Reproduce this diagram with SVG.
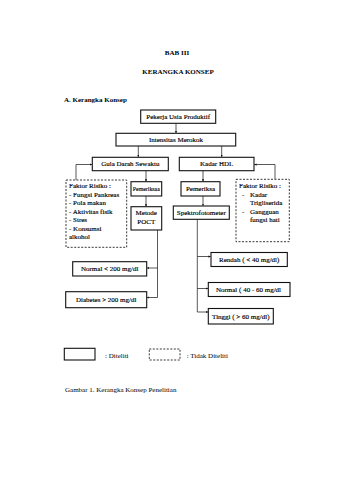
<svg xmlns="http://www.w3.org/2000/svg" width="339" height="480" viewBox="0 0 339 480">
<style>
text{font-family:"Liberation Serif","Times New Roman",serif;font-size:7px;fill:#000}
.t{stroke:#000;stroke-width:0.15}
.b{font-weight:bold}
.c{text-anchor:middle}
.box{fill:#fff;stroke:#111;stroke-width:1.1}
.dash{fill:#fff;stroke:#222;stroke-width:0.9;stroke-dasharray:2,1.5}
.ln{fill:none;stroke:#222;stroke-width:0.75}
</style>
<defs>
<marker id="ah" viewBox="0 0 6 6" refX="6" refY="3" markerWidth="3" markerHeight="3" orient="auto" markerUnits="strokeWidth">
<path d="M0,0L6,3L0,6z" fill="#111"/>
</marker>
</defs>
<rect width="339" height="480" fill="#fff"/>
<text class="b c" x="177" y="55">BAB III</text>
<text class="b c" x="178" y="74">KERANGKA KONSEP</text>
<text class="b" x="64" y="102">A. Kerangka Konsep</text>

<g id="connectors">
<path class="ln" d="M176,123.3V133" marker-end="url(#ah)"/>
<path class="ln" d="M138.3,146V157" marker-end="url(#ah)"/>
<path class="ln" d="M221.7,146V157" marker-end="url(#ah)"/>
<path class="ln" d="M76,180V164.5H92" marker-end="url(#ah)"/>
<path class="ln" d="M275,179.3V164.5H254.3" marker-end="url(#ah)"/>
<path class="ln" d="M146,170.7V181.5" marker-end="url(#ah)"/>
<path class="ln" d="M146,196V206.5" marker-end="url(#ah)"/>
<path class="ln" d="M203,170.7V181.5" marker-end="url(#ah)"/>
<path class="ln" d="M203,196V205.8" marker-end="url(#ah)"/>
<path class="ln" d="M157.5,230V297.5"/>
<path class="ln" d="M157.5,268H147" marker-end="url(#ah)"/>
<path class="ln" d="M157.5,297.5H147" marker-end="url(#ah)"/>
<path class="ln" d="M197.3,219.3V312"/>
<path class="ln" d="M197.3,256.5H210.7" marker-end="url(#ah)"/>
<path class="ln" d="M197.3,288.5H208" marker-end="url(#ah)"/>
<path class="ln" d="M197.3,312H208" marker-end="url(#ah)"/>
</g>

<g id="pekerja"><rect class="box" x="140.7" y="110" width="75" height="13.3"/><text class="c t" x="178.2" y="119">Pekerja Usia Produktif</text></g>
<g id="intensitas"><rect class="box" x="116" y="133.3" width="119.7" height="12.7"/><text class="c t" x="176" y="142">Intensitas Merokok</text></g>
<g id="gula"><rect class="box" x="92.3" y="157.3" width="76" height="13.4"/><text class="c t" x="130.3" y="166.3">Gula Darah Sewaktu</text></g>
<g id="hdl"><rect class="box" x="179.3" y="157.3" width="74.7" height="13.4"/><text class="c t" x="216.7" y="166.3">Kadar HDL</text></g>

<g id="faktor-kiri"><rect class="dash" x="66" y="180" width="60.7" height="67.3"/>
<text class="t" x="69" y="188">Faktor Risiko :</text>
<text class="t" x="69" y="196.5">- Fungsi Pankreas</text>
<text class="t" x="69" y="205">- Pola makan</text>
<text class="t" x="69" y="213.5">- Aktivitas fisik</text>
<text class="t" x="69" y="222">- Stres</text>
<text class="t" x="69" y="230.5">- Konsumsi</text>
<text class="t" x="69" y="239">alkohol</text></g>

<g id="pemeriksaa"><rect class="box" x="131" y="181.7" width="30.7" height="14.3"/><text class="t" x="132.8" y="191" textLength="27" lengthAdjust="spacingAndGlyphs">Pemeriksaa</text></g>
<g id="metode"><rect class="box" x="131" y="206.7" width="30.7" height="23.3"/><text class="c t" x="146.3" y="215">Metode</text><text class="c t" x="146.3" y="224">POCT</text></g>
<g id="pemeriksa"><rect class="box" x="181" y="181.7" width="39" height="14.3"/><text class="c t" x="200.5" y="191">Pemeriksa</text></g>
<g id="spektro"><rect class="box" x="173.3" y="206" width="56" height="13.3"/><text class="c t" x="201.3" y="215">Spektrofotometer</text></g>

<g id="faktor-kanan"><rect class="dash" x="236" y="179.3" width="53.3" height="62.4"/>
<text class="t" x="239" y="188">Faktor Risiko :</text>
<text class="t" x="242" y="196.5">-</text><text class="t" x="250" y="196.5">Kadar</text>
<text class="t" x="250" y="205">Trigliserida</text>
<text class="t" x="242" y="213.5">-</text><text class="t" x="250" y="213.5">Gangguan</text>
<text class="t" x="250" y="222">fungsi hati</text></g>

<g id="normal200"><rect class="box" x="72.7" y="261.7" width="74" height="14.3"/><text class="c t" x="109.7" y="271">Normal &lt; 200 mg/dl</text></g>
<g id="diabetes"><rect class="box" x="65.7" y="291.7" width="81" height="16"/><text class="c t" x="106.2" y="302">Diabetes &gt; 200 mg/dl</text></g>
<g id="rendah"><rect class="box" x="211" y="252.5" width="76.3" height="14"/><text class="c t" x="249.2" y="261.7">Rendah ( &lt; 40 mg/dl)</text></g>
<g id="normal4060"><rect class="box" x="208.3" y="282.5" width="81.7" height="14"/><text class="c t" x="248.5" y="291.7">Normal ( 40 - 60 mg/dl</text></g>
<g id="tinggi"><rect class="box" x="208.3" y="308.5" width="65" height="15.5"/><text class="c t" x="240.8" y="318.5">Tinggi ( &gt; 60 mg/dl)</text></g>

<g id="legend">
<rect class="box" x="64.3" y="348.3" width="30.7" height="11.7"/>
<text x="105" y="358" fill="#444">: Diteliti</text>
<rect class="dash" x="149.3" y="349" width="30.7" height="11"/>
<text x="186.7" y="358" fill="#444">: Tidak Diteliti</text>
</g>
<text x="65" y="392" fill="#333">Gambar 1. Kerangka Konsep Penelitian</text>
</svg>
